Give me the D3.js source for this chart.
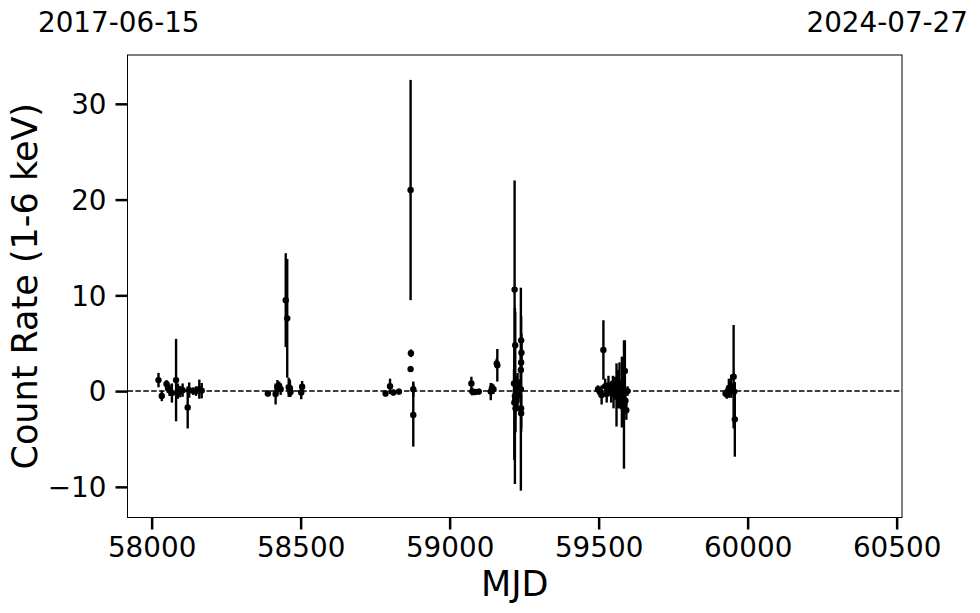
<!DOCTYPE html>
<html>
<head>
<meta charset="utf-8">
<script src="https://cdn.jsdelivr.net/npm/d3@7"></script>
<style>
  html, body { margin: 0; padding: 0; background: #fff; }
  svg { display: block; font-family: "DejaVu Sans", sans-serif; }
</style>
</head>
<body>
<svg id="chart" width="980" height="613"></svg>
<script>
// ---- data ----
const mjd = [
  58023, 58034, 58050, 58055, 58060, 58068, 58082, 58088, 58096, 58104, 58121, 58126, 58140, 58149, 58160, 58168,
  58390, 58416, 58422, 58428, 58433, 58450, 58455, 58460, 58464, 58466, 58502, 58505,
  58785, 58800, 58811, 58830, 58869, 58870, 58869, 58878, 58878,
  59073, 59076, 59085, 59098, 59138, 59142, 59147, 59158, 59160,
  59216, 59218, 59219, 59220, 59221, 59217, 59222, 59225, 59228, 59231, 59234, 59239, 59240, 59241, 59240, 59239, 59240, 59240, 59220,
  59498, 59504, 59510, 59516, 59522, 59527, 59533, 59538, 59542, 59548, 59550, 59555, 59560, 59565, 59570, 59575, 59578, 59585, 59588, 59590, 59593, 59597,
  59926, 59930, 59934, 59937, 59945, 59953, 59955, 59957
];
const rate = [
  1.15, -0.5, 0.75, 0.3, 0.1, -0.2, 1.15, 0.0, -0.05, 0.1, -1.7, 0.1, 0.0, 0.0, 0.2, 0.05,
  -0.25, -0.3, 0.45, 0.5, 0.2, 9.5, 7.6, 0.4, 0.3, -0.1, -0.15, 0.45,
  -0.25, 0.5, -0.15, -0.05, 21.0, 3.95, 2.3, 0.2, -2.5,
  0.8, -0.05, -0.1, -0.05, -0.05, 0.3, 0.2, 2.9, 2.7,
  0.8, 10.6, -0.5, 4.8, -1.8, -1.2, 0.0, 0.1, -0.1, 0.0, 0.2, 0.2, 5.3, 4.0, 3.0, 2.2, -1.8, -2.3, -0.9,
  0.2, -0.1, -0.4, 4.3, 0.5, -0.3, 0.6, 0.2, -0.2, 0.8, -0.3, 0.3, -0.4, 0.2, 0.6, -0.4, -0.1, -1.4, 2.1, -1.0, -2.0, 0.0,
  -0.25, -0.3, 0.0, 0.3, 0.5, 1.5, -0.05, -2.95
];
const rateErr = [
  0.75, 0.55, 0.4, 0.5, 0.6, 1.0, 4.3, 0.8, 0.6, 0.7, 2.2, 0.8, 0.4, 0.5, 1.0, 0.8,
  0.3, 1.1, 0.7, 0.5, 0.6, 4.9, 6.2, 1.0, 0.9, 0.5, 0.7, 0.6,
  0.3, 0.8, 0.3, 0.3, 11.5, 0.4, 0.3, 0.8, 3.3,
  0.7, 0.4, 0.3, 0.3, 0.9, 0.5, 0.5, 0.5, 1.7,
  1.5, 11.4, 9.2, 3.5, 2.5, 6.0, 1.0, 1.5, 2.0, 1.2, 1.0, 10.6, 2.5, 2.0, 2.5, 2.0, 2.0, 2.0, 2.0,
  0.4, 0.5, 1.0, 3.1, 0.8, 0.9, 1.0, 0.6, 1.0, 0.8, 1.5, 1.2, 3.3, 2.0, 2.4, 1.5, 3.7, 6.7, 3.2, 1.0, 1.0, 0.5,
  0.4, 0.5, 0.6, 1.0, 1.2, 5.4, 0.6, 3.9
];
const xTicks = [58000, 58500, 59000, 59500, 60000, 60500];
const yTicks = [-10, 0, 10, 20, 30];
const xDomain = [57919, 60518];
const yDomain = [-13.2, 35.1];
const topLabels = ["2017-06-15", "2024-07-27"];
const xLabel = "MJD";
const yLabel = "Count Rate (1-6 keV)";

// ---- layout ----
const svg = d3.select("#chart");
const L = 127.5, R = 902, T = 55, B = 517.5;
const x = d3.scaleLinear().domain(xDomain).range([L, R]);
const y = d3.scaleLinear().domain(yDomain).range([B, T]);
const tickFont = 27.8;
const labelFont = 35;

const pts = mjd.map((m, i) => ({ m, v: rate[i], e: rateErr[i] }));

// zero line
svg.append("line")
  .attr("x1", L).attr("x2", R)
  .attr("y1", y(0)).attr("y2", y(0))
  .attr("stroke", "#000").attr("stroke-width", 1.5)
  .attr("stroke-dasharray", "5.5,2.4");

// error bars
svg.append("g").selectAll("line").data(pts).join("line")
  .attr("x1", d => x(d.m)).attr("x2", d => x(d.m))
  .attr("y1", d => y(d.v - d.e)).attr("y2", d => y(d.v + d.e))
  .attr("stroke", "#000").attr("stroke-width", 2.4);

// markers
svg.append("g").selectAll("circle").data(pts).join("circle")
  .attr("cx", d => x(d.m)).attr("cy", d => y(d.v)).attr("r", 3.2)
  .attr("fill", "#000");

// frame
svg.append("rect")
  .attr("x", L).attr("y", T).attr("width", R - L).attr("height", B - T)
  .attr("fill", "none").attr("stroke", "#000").attr("stroke-width", 1);

// x axis
const fmt = v => (v < 0 ? "\u2212" + Math.abs(v) : String(v));
const xAxis = svg.append("g").attr("transform", `translate(0,${B})`)
  .call(d3.axisBottom(x).tickValues(xTicks).tickSize(12).tickSizeOuter(0).tickFormat(fmt));
xAxis.select(".domain").remove();
xAxis.selectAll(".tick line").attr("stroke", "#000").attr("stroke-width", 2.5);
xAxis.selectAll(".tick text")
  .attr("y", 20).attr("dy", "0.71em")
  .attr("font-size", tickFont).attr("font-family", "DejaVu Sans").attr("fill", "#000");

// y axis
const yAxis = svg.append("g").attr("transform", `translate(${L},0)`)
  .call(d3.axisLeft(y).tickValues(yTicks).tickSize(12).tickSizeOuter(0).tickFormat(fmt));
yAxis.select(".domain").remove();
yAxis.selectAll(".tick line").attr("stroke", "#000").attr("stroke-width", 2.5);
yAxis.selectAll(".tick text")
  .attr("x", -21).attr("dy", "0.35em")
  .attr("font-size", tickFont).attr("font-family", "DejaVu Sans").attr("fill", "#000");

// axis labels
svg.append("text")
  .attr("x", (L + R) / 2).attr("y", 596)
  .attr("text-anchor", "middle").attr("font-size", labelFont).attr("fill", "#000")
  .text(xLabel);
svg.append("text")
  .attr("transform", `translate(37,${(T + B) / 2}) rotate(-90)`)
  .attr("text-anchor", "middle").attr("font-size", labelFont).attr("fill", "#000")
  .text(yLabel);

// top date labels
svg.append("text")
  .attr("x", 38).attr("y", 32).attr("text-anchor", "start")
  .attr("font-size", tickFont).attr("fill", "#000").text(topLabels[0]);
svg.append("text")
  .attr("x", 968).attr("y", 32).attr("text-anchor", "end")
  .attr("font-size", tickFont).attr("fill", "#000").text(topLabels[1]);
</script>
</body>
</html>
